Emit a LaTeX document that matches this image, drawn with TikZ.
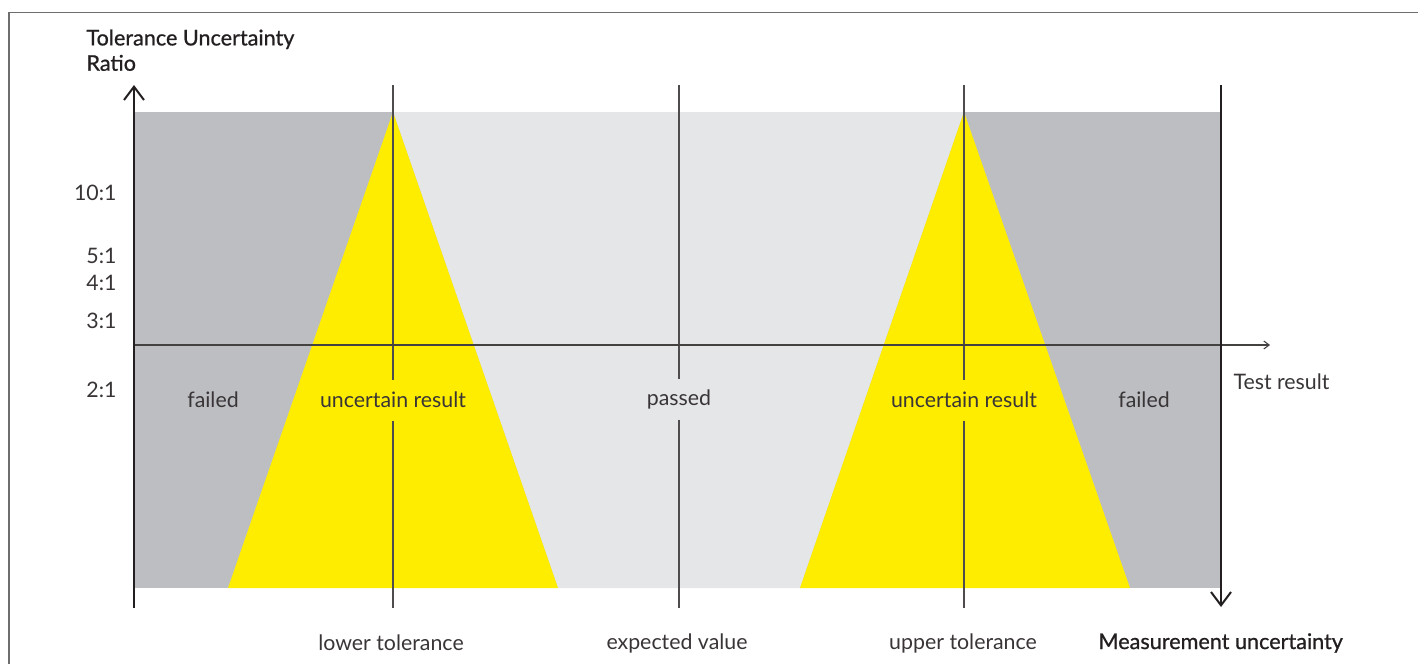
\documentclass[tikz,border=0pt]{standalone}
\usepackage{fontspec}
\setmainfont{Lato}
\newfontfamily\headfont{Lato}[FakeBold=0.8]
\usetikzlibrary{arrows.meta}

\definecolor{failgray}{RGB}{189,190,194}
\definecolor{passgray}{RGB}{229,230,232}
\definecolor{tolyellow}{RGB}{255,237,0}
\definecolor{ink}{RGB}{35,31,32}
\definecolor{framegray}{RGB}{110,110,110}

\tikzset{every picture/.style={line width=0.75pt}}
\tikzset{
  lbl/.style={font=\fontsize{16}{19}\selectfont, text=ink!90, inner sep=0.75pt},
  cutlbl/.style={lbl, minimum height=30pt},
  headlbl/.style={font=\fontsize{16.2}{19}\selectfont\headfont, text=ink, inner sep=0.75pt},
  mainaxis/.style={draw=ink, line width=1.5pt},
  guide/.style={draw=ink!80, line width=0.9pt},
}

\begin{document}
\begin{tikzpicture}[x=0.75pt,y=0.75pt,yscale=-1,xscale=1]
\useasboundingbox (0,0) rectangle (1418,664);

%Frame
\draw [framegray, line width=1.1pt] (9,664) -- (9,12.5) -- (1418,12.5);

%Regions
\fill [failgray] (134,112) rectangle (1221,588);
\fill [passgray] (393,112) -- (964,112) -- (800,588) -- (558,588) -- cycle;
\fill [tolyellow] (393,112) -- (558,588) -- (228,588) -- cycle;
\fill [tolyellow] (964,112) -- (1130,588) -- (800,588) -- cycle;

%Axis end points
\coordinate (yaxbot) at (134,608);
\coordinate (yaxtop) at (134,85);
\coordinate (maxtop) at (1221,85);
\coordinate (maxbot) at (1221,607);
\coordinate (xaxleft) at (134,345);
\coordinate (xaxright) at (1270,345);
\coordinate (lowtop) at (393,85);
\coordinate (lowbot) at (393,608);
\coordinate (exptop) at (679,85);
\coordinate (expbot) at (679,608);
\coordinate (upptop) at (964,85);
\coordinate (uppbot) at (964,608);

% Region labels
\node [cutlbl] (failL) at (213,400) {failed};
\node [cutlbl] (uncL) at (393,400) {uncertain result};
\node [cutlbl] (pass) at (679,399) {passed};
\node [cutlbl] (uncR) at (964,400) {uncertain result};
\node [cutlbl] (failR) at (1144,400) {failed};

%Guide lines
\draw [guide] (lowtop) -- (uncL.north);
\draw [guide] (uncL.south) -- (lowbot);
\draw [guide] (exptop) -- (pass.north);
\draw [guide] (pass.south) -- (expbot);
\draw [guide] (upptop) -- (uncR.north);
\draw [guide] (uncR.south) -- (uppbot);

%Axes
\draw [draw=ink!85, line width=0.8pt, -{Straight Barb[length=4pt, width=6pt]}] (xaxleft) -- (xaxright);
\draw [mainaxis, -{Straight Barb[length=10pt, width=15pt]}] (yaxbot) -- (yaxtop);
\draw [mainaxis, -{Straight Barb[length=10pt, width=15pt]}] (maxtop) -- (maxbot);

% Ratio ticks
\node [lbl, anchor=east] (r10) at (118,193) {10:1};
\node [lbl, anchor=east] (r5) at (118,256) {5:1};
\node [lbl, anchor=east] (r4) at (118,283) {4:1};
\node [lbl, anchor=east] (r3) at (118,321) {3:1};
\node [lbl, anchor=east] (r2) at (118,390) {2:1};

% Axis titles
\node [headlbl, anchor=north west, align=left] (ytitle) at (85,28) {Tolerance Uncertainty\\Ratio};
\node [lbl, anchor=west] (xtitle) at (1232,382) {Test result};
\node [headlbl, anchor=west] (mtitle) at (1097,643) {Measurement uncertainty};

% Bottom labels
\node [lbl] (lowlbl) at (391,643) {lower tolerance};
\node [lbl] (explbl) at (677,643) {expected value};
\node [lbl] (upplbl) at (963,643) {upper tolerance};

\end{tikzpicture}
\end{document}
